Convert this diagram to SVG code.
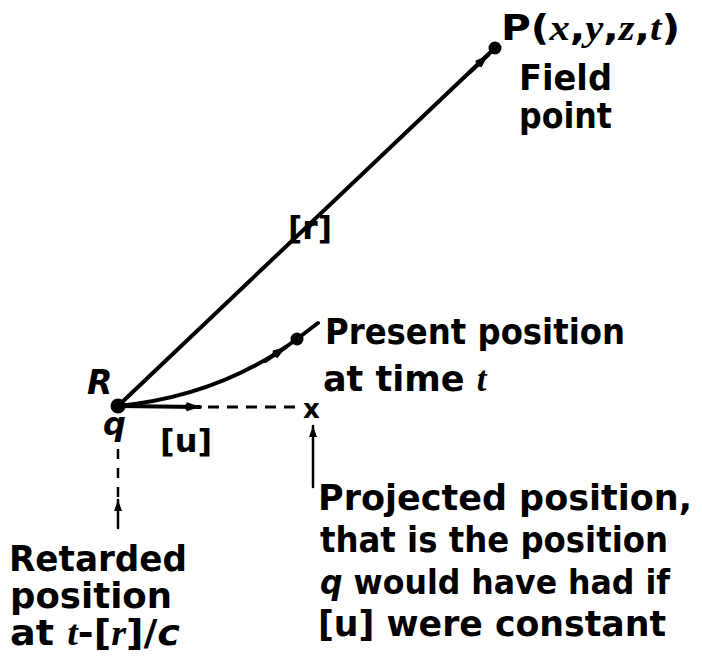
<svg xmlns="http://www.w3.org/2000/svg" width="702" height="661" viewBox="0 0 702 661">
<style>
.t{font-family:"DejaVu Sans","Liberation Sans",sans-serif;font-weight:bold;font-size:35px;fill:#000}
.it{font-family:"Liberation Serif","DejaVu Serif",serif;font-style:italic;font-weight:bold}
.is{font-family:"DejaVu Sans","Liberation Sans",sans-serif;font-style:italic}
.ln{fill:none;stroke:#000;stroke-width:4;stroke-linecap:round}
.dash{fill:none;stroke:#000;stroke-width:3;stroke-dasharray:11 8}
.dot{fill:#000}
</style>
<defs>
<marker id="ah" viewBox="0 0 18 10" refX="16" refY="5" markerWidth="18" markerHeight="10" markerUnits="userSpaceOnUse" orient="auto">
<path d="M0,5 L3,0.5 L16,5 L3,9.5 z" fill="#000"/>
</marker>
<marker id="ahs" viewBox="0 0 12 10" refX="11" refY="5" markerWidth="12" markerHeight="10" markerUnits="userSpaceOnUse" orient="auto">
<path d="M0,1 L11,5 L0,9 z" fill="#000"/>
</marker>
</defs>
<g id="connectors">
<path class="ln" d="M118,406 L495,48"/>
<path class="ln" d="M470,72 L488,55" marker-end="url(#ah)"/>
<path class="ln" d="M118,406 Q220,396 297,339 L318,323"/>
<path class="ln" d="M265,361 L286,347" marker-end="url(#ah)"/>
<path class="ln" d="M118,406 L200,407" marker-end="url(#ah)"/>
<path class="dash" d="M208,407 L300,407"/>
<path class="ln" style="stroke-width:2.5" d="M313,487 L313,426" marker-end="url(#ahs)"/>
<path class="dash" style="stroke-width:2.5;stroke-dasharray:10 9" d="M118,449 L118,497"/>
<path class="ln" style="stroke-width:2.5" d="M118,528 L118,500" marker-end="url(#ahs)"/>
</g>
<g id="node-R">
<circle class="dot" cx="118" cy="406" r="7.5"/>
<text class="t is" x="87" y="394" style="font-size:33px">R</text>
<text class="t is" x="103" y="435" style="font-size:32px">q</text>
<text class="t" x="160" y="452" style="font-size:32px">[u]</text>
</g>
<g id="node-P">
<circle class="dot" cx="495" cy="48" r="6.5"/>
<text class="t" x="501" y="40" textLength="179" lengthAdjust="spacingAndGlyphs">P(<tspan class="it">x</tspan>,<tspan class="it">y</tspan>,<tspan class="it">z</tspan>,<tspan class="it">t</tspan>)</text>
<text class="t" x="519" y="90" textLength="93" lengthAdjust="spacingAndGlyphs">Field</text>
<text class="t" x="519" y="128" textLength="93" lengthAdjust="spacingAndGlyphs">point</text>
</g>
<g id="label-r">
<text class="t" x="288" y="239" style="font-size:32px" textLength="44" lengthAdjust="spacingAndGlyphs">[r]</text>
</g>
<g id="node-present">
<circle class="dot" cx="297" cy="339" r="6.5"/>
<text class="t" x="325" y="344" textLength="300" lengthAdjust="spacingAndGlyphs">Present position</text>
<text class="t" x="323" y="391">at time <tspan class="it">t</tspan></text>
</g>
<g id="node-projected">
<text class="t" x="303" y="418" style="font-size:26px">x</text>
<text class="t" x="318" y="510" textLength="374" lengthAdjust="spacingAndGlyphs">Projected position,</text>
<text class="t" x="320" y="552" textLength="348" lengthAdjust="spacingAndGlyphs">that is the position</text>
<text class="t" x="320" y="594" style="font-size:33px" textLength="350" lengthAdjust="spacingAndGlyphs"><tspan class="is">q</tspan> would have had if</text>
<text class="t" x="318" y="636" textLength="348" lengthAdjust="spacingAndGlyphs">[u] were constant</text>
</g>
<g id="node-retarded">
<text class="t" x="9" y="571" textLength="178" lengthAdjust="spacingAndGlyphs">Retarded</text>
<text class="t" x="10" y="608" textLength="162" lengthAdjust="spacingAndGlyphs">position</text>
<text class="t" x="10" y="645" textLength="170" lengthAdjust="spacingAndGlyphs">at <tspan class="it">t</tspan>-[<tspan class="it">r</tspan>]/<tspan class="is">c</tspan></text>
</g>
</svg>
